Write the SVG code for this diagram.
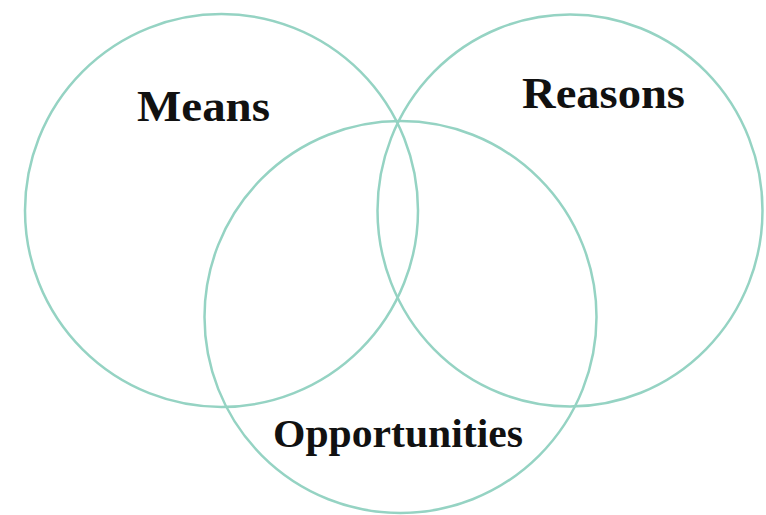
<svg xmlns="http://www.w3.org/2000/svg" width="766" height="515" viewBox="0 0 766 515">
<style>
.c{fill:none;stroke:#95d3c3;stroke-width:2.5}
.t{font-family:"Liberation Serif","Times New Roman",serif;font-weight:bold;fill:#111;text-anchor:middle}
</style>
<rect width="766" height="515" fill="#fff"/>
<g id="means"><circle class="c" cx="221.5" cy="210.5" r="196.5"/><text class="t" x="203.5" y="121" font-size="44" textLength="133" lengthAdjust="spacingAndGlyphs">Means</text></g>
<g id="reasons"><ellipse class="c" cx="570" cy="210.5" rx="192.5" ry="196"/><text class="t" x="603.5" y="108" font-size="44" textLength="163" lengthAdjust="spacingAndGlyphs">Reasons</text></g>
<g id="opportunities"><circle class="c" cx="400.5" cy="317" r="196"/><text class="t" x="398" y="447" font-size="41" textLength="250" lengthAdjust="spacingAndGlyphs">Opportunities</text></g>
<g id="connectors"/>
</svg>
